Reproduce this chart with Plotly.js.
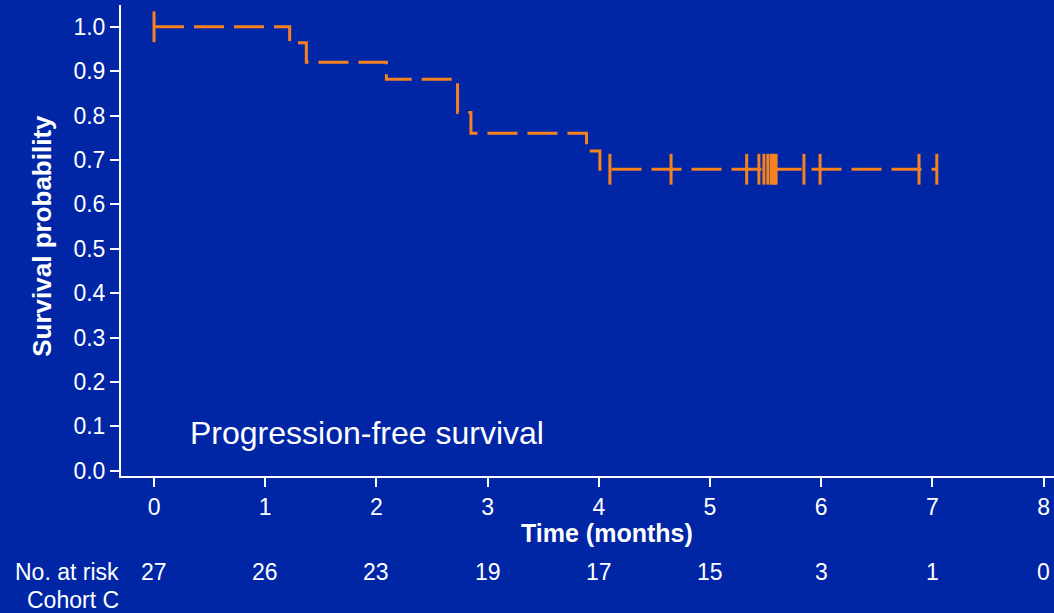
<!DOCTYPE html>
<html>
<head>
<meta charset="utf-8">
<script src="https://cdn.plot.ly/plotly-3.0.1.min.js"></script>
<style>
  html, body { margin: 0; padding: 0; background: #0026A6; }
  #chart { width: 1054px; height: 613px; }
</style>
</head>
<body>
<div id="chart"></div>
<script>
// Kaplan-Meier step curve (time in months, survival probability)
const stepTimes = [0, 1.22, 1.37, 2.09, 2.73, 2.85, 3.89, 4.01, 7.04];
const stepSurv  = [1.0, 0.964, 0.92, 0.882, 0.807, 0.760, 0.720, 0.679, 0.679];

// Censoring marks (time in months)
const censorTimes = [0, 4.10, 4.65, 5.33, 5.44, 5.485, 5.52, 5.55, 5.565, 5.58, 5.595, 5.845, 5.99, 6.88, 7.04];

// Number at risk table
const riskTimes  = [0, 1, 2, 3, 4, 5, 6, 7, 8];
const riskCounts = [27, 26, 23, 19, 17, 15, 3, 1, 0];

const xTickVals = [0, 1, 2, 3, 4, 5, 6, 7, 8];
const yTickVals = [0, 0.1, 0.2, 0.3, 0.4, 0.5, 0.6, 0.7, 0.8, 0.9, 1.0];

const BG = '#0026A6';
const ORANGE = '#F5821F';
const FONT = 'Liberation Sans, Arial, sans-serif';

function survAt(t) {
  let s = stepSurv[0];
  for (let i = 0; i < stepTimes.length; i++) {
    if (stepTimes[i] <= t) s = stepSurv[i];
  }
  return s;
}

const curve = {
  x: stepTimes, y: stepSurv, type: 'scatter', mode: 'lines',
  line: { shape: 'hv', color: ORANGE, width: 3, dash: '30px,10px' },
  hoverinfo: 'skip', showlegend: false
};

const censors = {
  x: censorTimes, y: censorTimes.map(survAt), type: 'scatter', mode: 'markers',
  marker: { symbol: 'line-ns', size: 22, color: ORANGE, line: { color: ORANGE, width: 3 } },
  hoverinfo: 'skip', showlegend: false
};

const annotations = [
  { text: 'Progression-free survival', xref: 'x', yref: 'y', x: 0.31, y: 0.084,
    xanchor: 'left', yanchor: 'middle', showarrow: false,
    font: { family: FONT, size: 32, color: 'white' } },
  { text: '<b>Time (months)</b>', xref: 'x', yref: 'paper', x: 4.07, y: -0.121,
    xanchor: 'center', yanchor: 'middle', showarrow: false,
    font: { family: FONT, size: 25, color: 'white' } },
  { text: '<b>Survival probability</b>', xref: 'paper', yref: 'paper', x: -0.0847, y: 0.51,
    xanchor: 'center', yanchor: 'middle', textangle: -90, showarrow: false,
    font: { family: FONT, size: 26, color: 'white' } },
  { text: 'No. at risk', xref: 'paper', yref: 'paper', x: 0, y: -0.204,
    xanchor: 'right', yanchor: 'middle', showarrow: false,
    font: { family: FONT, size: 23, color: 'white' } },
  { text: 'Cohort C', xref: 'paper', yref: 'paper', x: 0, y: -0.263,
    xanchor: 'right', yanchor: 'middle', showarrow: false,
    font: { family: FONT, size: 23, color: 'white' } }
];
riskTimes.forEach((t, i) => {
  annotations.push({
    text: String(riskCounts[i]), xref: 'x', yref: 'paper', x: t, y: -0.204,
    xanchor: 'center', yanchor: 'middle', showarrow: false,
    font: { family: FONT, size: 23, color: 'white' }
  });
});

const layout = {
  width: 1054, height: 613,
  paper_bgcolor: BG, plot_bgcolor: BG,
  margin: { l: 121, r: 0, t: 5, b: 137 },
  font: { family: FONT, color: 'white', size: 23 },
  xaxis: {
    range: [-0.297, 8.094], tickvals: xTickVals,
    showgrid: false, zeroline: false, showline: true,
    linecolor: 'white', linewidth: 2,
    ticks: 'outside', ticklen: 9, tickwidth: 2, tickcolor: 'white',
    tickfont: { family: FONT, size: 23, color: 'white' }
  },
  yaxis: {
    range: [-0.012, 1.049], tickvals: yTickVals, tickformat: '.1f',
    showgrid: false, zeroline: false, showline: true,
    linecolor: 'white', linewidth: 2,
    ticks: 'outside', ticklen: 9, tickwidth: 2, tickcolor: 'white',
    tickfont: { family: FONT, size: 23, color: 'white' }
  },
  annotations: annotations
};

Plotly.newPlot('chart', [curve, censors], layout, { staticPlot: true, displayModeBar: false });
</script>
</body>
</html>
